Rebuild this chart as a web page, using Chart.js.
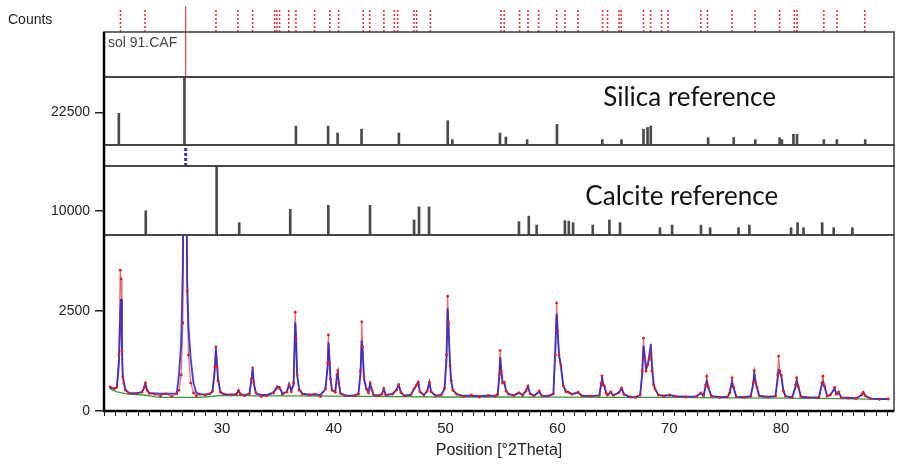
<!DOCTYPE html>
<html>
<head>
<meta charset="utf-8">
<title>XRD sol 91</title>
<script src="https://cdn.jsdelivr.net/npm/chart.js@4.4.1/dist/chart.umd.min.js"></script>
<style>
 html, body { margin: 0; padding: 0; background: #fff; }
 canvas { display: block; }
</style>
</head>
<body>
<canvas id="xrd" width="898" height="464"></canvas>
<script>
// measured scan (°2Theta, counts)
const twoTheta = [
 20.0, 20.4, 20.6, 20.78, 20.9, 20.97, 21.05, 21.12, 21.22, 21.36,
 21.65, 22.3, 22.83, 23.05, 23.15, 23.3, 23.5, 24.0, 24.5, 25.0,
 25.5, 25.95, 26.15, 26.35, 26.5, 26.6, 26.75, 26.88, 27.0, 27.2,
 27.45, 27.7, 28.0, 28.5, 28.9, 29.15, 29.35, 29.45, 29.55, 29.65,
 29.85, 30.2, 30.8, 31.3, 31.48, 31.65, 32.0, 32.45, 32.62, 32.74,
 32.85, 33.04, 33.5, 34.0, 34.6, 34.95, 35.15, 35.4, 35.8, 36.0,
 36.2, 36.4, 36.55, 36.62, 36.72, 36.9, 37.2, 37.8, 38.3, 38.8,
 39.25, 39.45, 39.52, 39.62, 39.7, 39.84, 40.13, 40.28, 40.36, 40.45,
 40.6, 41.0, 41.8, 42.2, 42.38, 42.5, 42.58, 42.7, 42.92, 43.1,
 43.25, 43.4, 43.56, 44.0, 44.3, 44.47, 44.65, 45.25, 45.6, 45.8,
 46.0, 46.3, 46.9, 47.17, 47.4, 47.55, 47.7, 48.05, 48.35, 48.55,
 48.7, 49.1, 49.6, 49.9, 50.08, 50.18, 50.27, 50.4, 50.5, 50.65,
 51.0, 51.6, 52.3, 53.0, 53.8, 54.4, 54.65, 54.8, 54.88, 54.98,
 55.1, 55.24, 55.4, 55.62, 56.1, 56.56, 56.9, 57.2, 57.37, 57.55,
 57.9, 58.37, 58.6, 59.2, 59.64, 59.82, 59.93, 60.02, 60.14, 60.31,
 60.52, 60.75, 60.96, 61.3, 61.84, 62.2, 63.0, 63.75, 63.9, 63.98,
 64.1, 64.19, 64.35, 64.48, 64.77, 65.0, 65.5, 65.74, 65.95, 66.5,
 67.0, 67.4, 67.58, 67.7, 67.8, 67.93, 68.08, 68.22, 68.35, 68.45,
 68.6, 68.73, 69.03, 69.5, 70.05, 70.6, 71.5, 72.4, 72.84, 73.07,
 73.25, 73.36, 73.5, 73.77, 74.5, 75.2, 75.4, 75.62, 75.75, 76.0,
 76.7, 77.29, 77.5, 77.61, 77.75, 77.85, 78.05, 78.8, 79.5, 79.7,
 79.78, 79.9, 80.02, 80.2, 80.4, 81.0, 81.3, 81.4, 81.55, 81.78,
 82.5, 83.39, 83.65, 83.75, 83.9, 84.13, 84.4, 84.8, 84.95, 85.15,
 85.4, 86.0, 86.7, 87.2, 87.35, 87.55, 88.0, 88.8, 89.6
];
const observed = [
 600, 560, 600, 1400, 3520, 3300, 1500, 850, 700, 520,
 450, 440, 470, 600, 700, 520, 440, 420, 380, 430,
 360, 430, 520, 900, 2200, 9000, 9000, 3000, 1400, 700,
 450, 380, 420, 400, 430, 500, 1100, 1600, 1100, 750,
 470, 420, 400, 420, 500, 420, 380, 430, 800, 1080,
 700, 450, 360, 380, 450, 580, 560, 420, 470, 650,
 480, 700, 2470, 1800, 900, 520, 420, 400, 420, 360,
 550, 1200, 1900, 1200, 800, 520, 470, 900, 1010, 700,
 440, 390, 380, 420, 1000, 2230, 1600, 850, 550, 450,
 700, 520, 400, 380, 420, 560, 400, 420, 520, 660,
 460, 380, 400, 550, 650, 720, 480, 400, 500, 720,
 480, 380, 400, 560, 1400, 2870, 2200, 1130, 760, 520,
 420, 360, 400, 350, 390, 370, 420, 900, 1510, 1000,
 700, 720, 500, 420, 390, 450, 390, 500, 620, 430,
 380, 500, 380, 380, 430, 1400, 2700, 2000, 1410, 1130,
 630, 480, 470, 420, 470, 380, 370, 390, 700, 880,
 650, 630, 450, 400, 480, 390, 460, 570, 420, 350,
 340, 400, 1000, 1820, 1300, 1000, 1150, 1300, 1420, 1000,
 650, 550, 400, 370, 400, 360, 350, 360, 450, 380,
 650, 870, 600, 370, 340, 350, 450, 830, 600, 360,
 340, 370, 700, 1010, 700, 590, 380, 350, 370, 900,
 1370, 1000, 890, 500, 370, 340, 650, 830, 600, 360,
 330, 340, 700, 870, 620, 370, 400, 590, 420, 480,
 330, 320, 310, 400, 470, 380, 310, 290, 300
];
const calculated = [
 580, 560, 590, 1200, 2400, 2800, 1600, 900, 700, 550,
 450, 440, 470, 580, 680, 520, 450, 440, 430, 430,
 430, 440, 900, 1700, 3600, 9000, 9000, 3300, 2100, 1300,
 700, 450, 420, 410, 430, 480, 1000, 1570, 1200, 800,
 480, 420, 410, 420, 520, 420, 400, 430, 750, 1050,
 680, 440, 400, 400, 460, 620, 600, 440, 480, 680,
 520, 650, 2220, 1900, 900, 550, 430, 410, 420, 400,
 550, 1100, 1720, 1300, 800, 520, 470, 880, 970, 700,
 440, 390, 385, 430, 900, 1760, 1500, 800, 550, 480,
 680, 540, 400, 390, 420, 550, 400, 425, 530, 650,
 470, 380, 410, 550, 640, 720, 480, 400, 500, 720,
 480, 380, 400, 550, 1300, 2570, 2000, 1130, 760, 520,
 420, 380, 380, 375, 380, 385, 400, 850, 1340, 1000,
 700, 720, 520, 425, 390, 460, 400, 520, 620, 440,
 380, 480, 380, 375, 425, 1630, 2430, 2000, 1410, 1130,
 640, 500, 470, 420, 460, 380, 375, 390, 650, 870,
 650, 630, 460, 400, 470, 390, 460, 570, 420, 345,
 345, 400, 900, 1630, 1400, 1050, 1180, 1400, 1680, 1200,
 700, 550, 400, 380, 400, 370, 360, 360, 450, 380,
 600, 730, 580, 370, 350, 350, 440, 720, 580, 360,
 345, 370, 650, 930, 700, 590, 380, 350, 370, 800,
 1010, 950, 890, 520, 370, 340, 600, 760, 600, 360,
 340, 340, 650, 720, 600, 370, 400, 560, 420, 450,
 340, 330, 320, 400, 460, 380, 310, 300, 300
];

// background
const bgTheta = [19.95, 20.6, 21.6, 23.0, 24.4, 26.0, 27.6, 28.5, 30.0, 33.0, 36.0,
 40.0, 45.0, 50.0, 55.0, 60.0, 65.0, 70.0, 75.0, 80.0, 85.0, 89.6];
const bgCounts = [560, 480, 420, 400, 340, 340, 340, 350, 390, 380, 380,
 370, 360, 350, 350, 345, 340, 340, 330, 320, 310, 290];

// reference patterns
const silicaTheta = [20.77, 26.64, 36.61, 39.49, 40.34, 42.48, 45.82, 50.19, 50.60, 54.86,
 55.39, 57.29, 59.96, 64.01, 65.73, 67.70, 68.06, 68.35, 73.48, 75.77,
 77.70, 79.87, 80.08, 81.11, 81.43, 83.83, 85.00, 87.53];
const silicaCounts = [21800, 46800, 13000, 13000, 8300, 10900, 8300, 16700, 3700, 8300,
 5500, 3700, 14200, 3700, 3700, 10900, 12100, 13000, 5100, 5100,
 3700, 5100, 3700, 7400, 7400, 3700, 3700, 3700];
const calciteTheta = [23.18, 29.52, 31.54, 36.10, 39.51, 43.24, 47.18, 47.62, 48.52, 56.56,
 57.44, 58.14, 60.67, 61.02, 61.40, 63.16, 64.65, 65.60, 69.17, 70.26,
 72.84, 73.66, 76.20, 77.17, 80.90, 81.48, 82.01, 83.68, 84.71, 86.38];
const calciteCounts = [10000, 28400, 5100, 10600, 12200, 12200, 6200, 11600, 11600, 5500,
 7800, 4100, 5900, 5700, 5100, 4100, 6200, 5100, 3000, 4100,
 4100, 3000, 3000, 4100, 3000, 5100, 3000, 5100, 3000, 3000];

// peak list markers on top
const tickTheta = [20.92, 23.12, 29.46, 31.42, 32.74, 34.71, 34.91, 35.15, 35.97, 36.61,
 38.28, 39.64, 40.43, 42.63, 43.21, 44.48, 45.41, 45.71, 47.17, 47.41, 48.64,
 54.95, 55.24, 56.62, 57.37, 58.32, 59.93, 60.67, 61.84, 64.04, 64.48, 65.51,
 65.71, 67.70, 68.34, 69.31, 69.90, 72.83, 73.42, 75.62, 77.67, 79.87, 81.19,
 81.43, 83.83, 85.00, 87.50];
const cursorTheta = 26.75;

const sticks = (xs, h) => xs.flatMap(x => [{ x, y: 0 }, { x, y: h }, { x, y: null }]);
const pts = (xs, ys) => xs.map((x, i) => ({ x, y: ys[i] }));

// keep every dataset inside its own panel
const panelClip = {
 id: 'panelClip',
 beforeDatasetDraw(chart, args) {
 const s = chart.scales[args.meta.yAxisID];
 const a = chart.chartArea;
 const ctx = chart.ctx;
 ctx.save();
 ctx.beginPath();
 ctx.rect(a.left, s.top, a.right - a.left, s.bottom - s.top);
 ctx.clip();
 },
 afterDatasetDraw(chart) {
 chart.ctx.restore();
 }
};

const panelFrames = {
 id: 'panelFrames',
 afterDraw(chart) {
 const { ctx, chartArea: a, scales } = chart;
 ctx.save();
 ctx.strokeStyle = '#3c3c3c';
 ctx.lineWidth = 1.5;
 for (const id of ['ySol', 'ySilica', 'yGap', 'yCalcite', 'yMain']) {
 const s = scales[id];
 ctx.strokeRect(a.left, s.top, a.right - a.left, s.bottom - s.top);
 }
 ctx.strokeStyle = '#000';
 ctx.lineWidth = 2.5;
 ctx.beginPath();
 ctx.moveTo(a.left, scales.ySol.top);
 ctx.lineTo(a.left, a.bottom);
 ctx.lineTo(a.right, a.bottom);
 ctx.stroke();

 ctx.fillStyle = '#222';
 ctx.textBaseline = 'middle';
 ctx.font = '14px "Liberation Sans", Arial, sans-serif';
 ctx.fillText('Counts', 8, 20);
 ctx.fillStyle = '#444';
 ctx.fillText('sol 91.CAF', a.left + 4, scales.ySol.top + 11);

 ctx.fillStyle = '#111';
 ctx.textBaseline = 'alphabetic';
 ctx.font = '26px Lato, "Noto Sans", sans-serif';
 ctx.fillText('Silica reference', scales.x.getPixelForValue(64.1), scales.ySilica.top + 29);
 ctx.fillText('Calcite reference', scales.x.getPixelForValue(62.5), scales.yCalcite.top + 39);
 ctx.restore();
 }
};

const yPanel = (weight, max, ticks) => ({
 type: 'linear',
 position: 'left',
 stack: 'panels',
 stackWeight: weight,
 min: 0,
 max: max,
 afterBuildTicks: s => { s.ticks = ticks.map(v => ({ value: v })); },
 afterFit: s => { s.width = 104; s.paddingTop = 0; s.paddingBottom = 0; },
 border: { display: false },
 grid: { drawOnChartArea: false, drawTicks: true, tickLength: 9, color: '#222', lineWidth: 1.5 },
 ticks: {
 display: ticks.length > 0,
 padding: 5,
 color: '#222',
 font: { family: '"Liberation Sans", Arial, sans-serif', size: 14 },
 callback: v => String(v)
 }
});

new Chart(document.getElementById('xrd'), {
 type: 'line',
 data: {
 datasets: [
 {
 label: 'Observed points',
 data: pts(twoTheta, observed),
 yAxisID: 'yMain',
 showLine: false,
 pointRadius: 1.4,
 pointBackgroundColor: '#e01e1e',
 pointBorderWidth: 0,
 order: 1
 },
 {
 label: 'Calculated',
 data: pts(twoTheta, calculated),
 yAxisID: 'yMain',
 borderColor: 'rgba(40,30,200,0.85)',
 borderWidth: 1.9,
 pointRadius: 0,
 order: 2
 },
 {
 label: 'Observed',
 data: pts(twoTheta, observed),
 yAxisID: 'yMain',
 borderColor: '#e86a6a',
 borderWidth: 1.2,
 pointRadius: 0,
 order: 3
 },
 {
 label: 'Background',
 data: pts(bgTheta, bgCounts),
 yAxisID: 'yMain',
 borderColor: '#3a9a3a',
 borderWidth: 1.3,
 pointRadius: 0,
 order: 4
 },
 {
 type: 'bar',
 label: 'Calcite reference',
 data: pts(calciteTheta, calciteCounts),
 yAxisID: 'yCalcite',
 backgroundColor: '#4a4a4a',
 barThickness: 2,
 grouped: false,
 order: 5
 },
 {
 label: 'Gap mark',
 data: sticks([cursorTheta], 1),
 yAxisID: 'yGap',
 borderColor: '#4a2cc0',
 borderWidth: 3,
 borderDash: [3, 2],
 pointRadius: 0,
 spanGaps: false,
 order: 5
 },
 {
 type: 'bar',
 label: 'Silica reference',
 data: pts(silicaTheta, silicaCounts),
 yAxisID: 'ySilica',
 backgroundColor: '#4a4a4a',
 barThickness: 2,
 grouped: false,
 order: 5
 },
 {
 label: 'Cursor',
 data: sticks([cursorTheta], 1),
 yAxisID: 'ySol',
 borderColor: '#d44',
 borderWidth: 1.2,
 pointRadius: 0,
 spanGaps: false,
 order: 5
 },
 {
 label: 'Peak list',
 data: sticks(tickTheta, 0.85),
 yAxisID: 'yTicks',
 borderColor: '#e23a3a',
 borderWidth: 1.6,
 borderDash: [2, 2],
 pointRadius: 0,
 spanGaps: false,
 order: 5
 },
 {
 label: 'Cursor top',
 data: sticks([cursorTheta], 0.95),
 yAxisID: 'yTicks',
 borderColor: '#d44',
 borderWidth: 1.2,
 pointRadius: 0,
 spanGaps: false,
 order: 5
 }
 ]
 },
 options: {
 responsive: false,
 animation: false,
 devicePixelRatio: 1,
 layout: { padding: { top: 5, right: 3, left: 0, bottom: 0 } },
 plugins: { legend: { display: false }, tooltip: { enabled: false } },
 scales: {
 x: {
 type: 'linear',
 min: 19.95,
 max: 89.6,
 afterFit: s => { s.height = 53; s.paddingLeft = 0; s.paddingRight = 0; },
 border: { display: false },
 grid: { drawOnChartArea: false, drawTicks: true, tickLength: 5, color: '#222' },
 ticks: {
 stepSize: 1,
 includeBounds: false,
 autoSkip: false,
 maxRotation: 0,
 padding: 4,
 color: '#222',
 font: { family: '"Liberation Sans Narrow", "Liberation Sans", Arial, sans-serif', size: 15 },
 callback: v => (v % 10 === 0 && v > 20 ? String(v) : '')
 },
 title: {
 display: true,
 text: 'Position [°2Theta]',
 color: '#222',
 padding: { top: 0, bottom: 4 },
 font: { family: '"Liberation Sans Narrow", "Liberation Sans", Arial, sans-serif', size: 16 }
 }
 },
 yMain: yPanel(176, 4400, [0, 2500]),
 yCalcite: yPanel(69, 28400, [10000]),
 yGap: yPanel(21, 1, []),
 ySilica: yPanel(68, 46800, [22500]),
 ySol: yPanel(45, 1, []),
 yTicks: yPanel(27, 1, [])
 }
 },
 plugins: [panelClip, panelFrames]
});
</script>
</body>
</html>
